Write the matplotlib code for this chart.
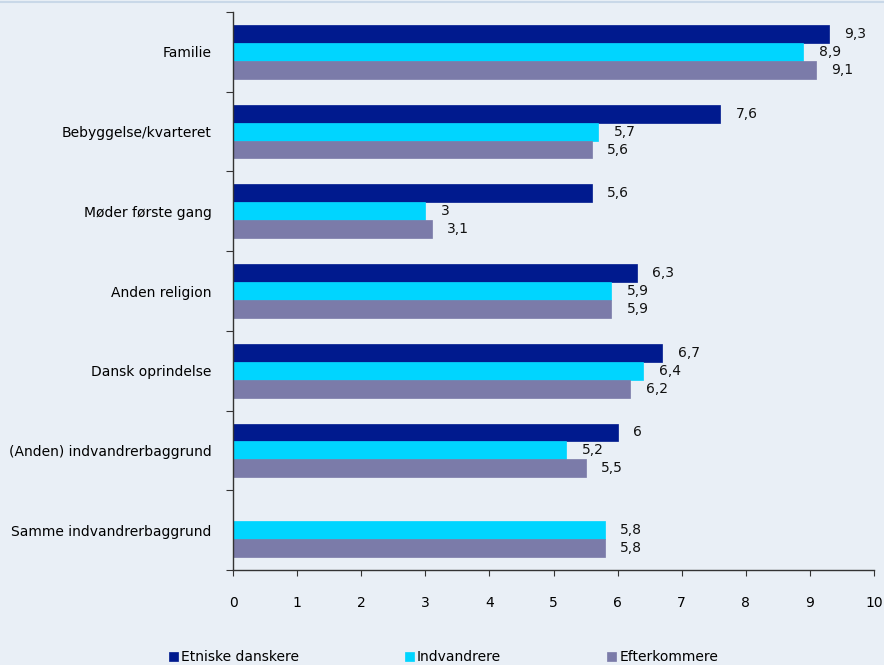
import matplotlib
matplotlib.use("Agg")
import matplotlib.pyplot as plt
import numpy as np

categories = ["Familie", "Bebyggelse/kvarteret", "Møder første gang", "Anden religion",
              "Dansk oprindelse", "(Anden) indvandrerbaggrund", "Samme indvandrerbaggrund"]
series_names = ["Etniske danskere", "Indvandrere", "Efterkommere"]
etniske = [9.3, 7.6, 5.6, 6.3, 6.7, 6.0, np.nan]
indvandrere = [8.9, 5.7, 3.0, 5.9, 6.4, 5.2, 5.8]
efterkommere = [9.1, 5.6, 3.1, 5.9, 6.2, 5.5, 5.8]
x_ticks = [0, 1, 2, 3, 4, 5, 6, 7, 8, 9, 10]

colors = ["#001A8E", "#00D5FF", "#7B7BA9"]
bg = "#E9EFF6"

plt.rcParams['font.family'] = ['DejaVu Sans']
fig = plt.figure(figsize=(8.84, 6.65), dpi=100, facecolor=bg)
ax = fig.add_axes([233/884, 1-570/665, (874-233)/884, (570-12)/665])
ax.set_facecolor(bg)

n = len(categories)
ypos = np.arange(n)
h = 0.225
offsets = [-h, 0, h]
for vals, off, col, name in zip([etniske, indvandrere, efterkommere], offsets, colors, series_names):
    bars = ax.barh(ypos + off, vals, height=h, color=col, label=name,
                   edgecolor=col, linewidth=0.5)
    for b, v in zip(bars, vals):
        if np.isnan(v):
            continue
        lbl = (f"{v:.1f}" if v != int(v) else f"{int(v)}").replace(".", ",")
        ax.annotate(lbl, (v, b.get_y() + b.get_height()/2), xytext=(11, 0),
                    textcoords="offset points", va="center", ha="left",
                    fontsize=10, color="#111111")

ax.set_xlim(0, 10)
ax.set_ylim(n - 0.5, -0.5)
ax.set_xticks(x_ticks)
ax.set_xticklabels([str(t) for t in x_ticks], fontsize=10)
ax.set_yticks(np.arange(n + 1) - 0.5)
ax.set_yticklabels([])
ax.set_yticks(ypos, minor=True)
ax.set_yticklabels(categories, minor=True, fontsize=10)
ax.tick_params(axis='y', which='minor', length=0, pad=15.5)
ax.tick_params(axis='y', which='major', length=5, direction='out', color="#333333")
ax.tick_params(axis='x', length=4, direction='out', pad=15, color="#333333")
for s in ["top", "right"]:
    ax.spines[s].set_visible(False)
for s in ["left", "bottom"]:
    ax.spines[s].set_color("#333333")
    ax.spines[s].set_linewidth(1.0)

fig.legend(loc="lower left", bbox_to_anchor=(156/884, -0.018), ncol=3, frameon=False,
           handlelength=0.7, handleheight=0.7, handletextpad=0.2, columnspacing=7.6,
           fontsize=10)

# thin top border line
fig.add_artist(plt.Line2D([0, 1], [1-1.5/665, 1-1.5/665], color="#C9D8E8", linewidth=1.5,
                          transform=fig.transFigure))

fig.savefig("out.png", dpi=100, facecolor=bg)
